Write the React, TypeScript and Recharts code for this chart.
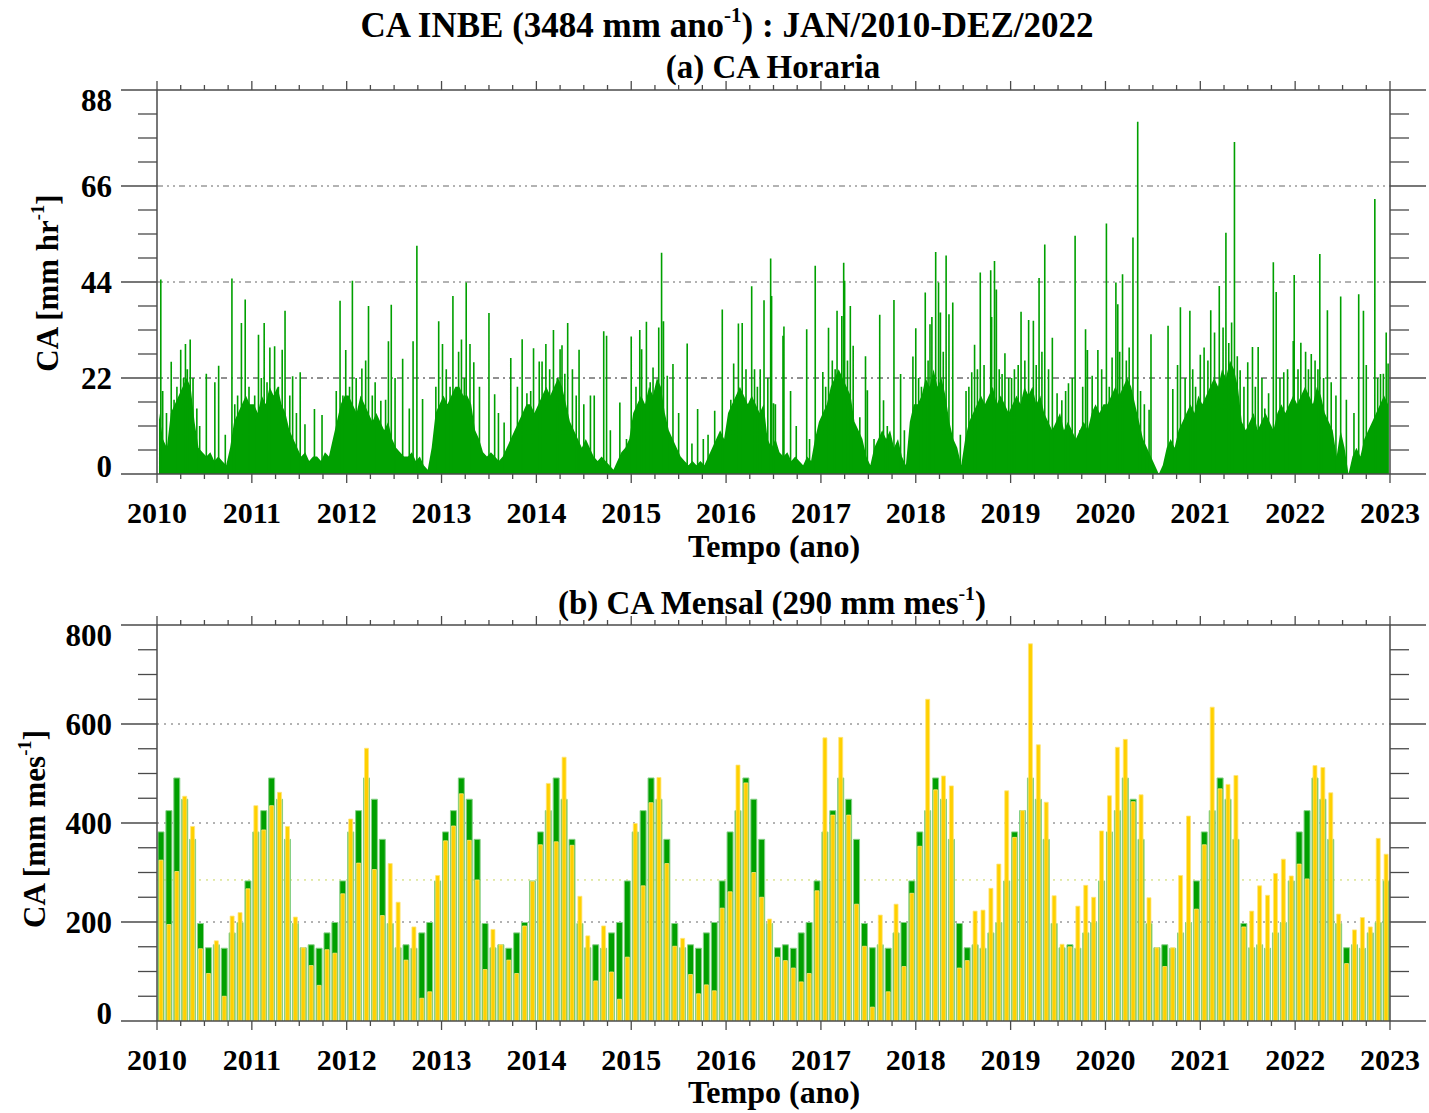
import React from 'react'
import { ComposedChart, Area, Line, Bar, XAxis, YAxis, CartesianGrid } from 'recharts'

const FONT = "'Liberation Serif', 'Times New Roman', serif"
const GREEN = '#00a000'
const GREEN_EDGE = '#86d086'
const YELLOW = '#ffd000'
const YELLOW_EDGE = '#ffe47a'
const AXIS = '#4a4a4a'

// ---- (b) monthly totals, mm/mes ----
// green bars: monthly climatology Jan..Dec
const climatology = [382, 425, 491, 448, 367, 197, 148, 154, 147, 178, 199, 283]

// yellow bars: observed month totals
const obs2010 = [325, 195, 302, 454, 393, 146, 96, 162, 50, 212, 219, 267]
const obs2011 = [435, 386, 435, 462, 393, 210, 148, 112, 72, 144, 137, 257]
const obs2012 = [408, 319, 551, 306, 213, 318, 240, 123, 190, 46, 59, 294]
const obs2013 = [364, 394, 459, 365, 285, 104, 185, 154, 123, 96, 192, 282]
const obs2014 = [356, 480, 362, 533, 355, 252, 172, 81, 192, 99, 44, 129]
const obs2015 = [399, 273, 441, 492, 318, 151, 167, 94, 55, 73, 61, 228]
const obs2016 = [261, 517, 481, 300, 250, 206, 129, 122, 107, 79, 96, 263]
const obs2017 = [572, 416, 573, 416, 236, 151, 28, 214, 59, 236, 110, 258]
const obs2018 = [353, 650, 467, 495, 475, 107, 122, 222, 224, 268, 317, 465]
const obs2019 = [371, 425, 762, 558, 442, 253, 155, 150, 232, 274, 250, 384]
const obs2020 = [455, 553, 569, 443, 457, 249, 148, 110, 148, 294, 414, 226]
const obs2021 = [356, 634, 469, 478, 496, 190, 222, 273, 254, 298, 327, 293]
const obs2022 = [317, 287, 516, 512, 461, 216, 116, 184, 209, 190, 369, 337]

// ---- (a) hourly rain, mm/hr ----
// dense part of the trace, read per half month
const body2010 = [14, 8, 6, 14, 16, 18, 20, 22, 20, 12, 6, 5, 4, 5, 3, 4, 3, 2, 6, 12, 14, 16, 18, 16]
const body2011 = [16, 14, 18, 16, 20, 18, 20, 16, 14, 10, 8, 6, 4, 5, 3, 4, 4, 3, 5, 4, 8, 12, 16, 18]
const body2012 = [18, 16, 14, 18, 16, 14, 12, 14, 12, 10, 12, 8, 6, 5, 4, 4, 5, 3, 4, 2, 1, 6, 14, 16]
const body2013 = [18, 16, 18, 20, 20, 18, 18, 16, 10, 8, 5, 4, 5, 4, 3, 4, 6, 8, 10, 12, 14, 16, 16, 14]
const body2014 = [16, 18, 20, 18, 20, 22, 20, 16, 12, 10, 8, 6, 8, 6, 4, 3, 4, 3, 2, 1, 3, 5, 6, 8]
const body2015 = [14, 16, 18, 16, 20, 18, 22, 20, 14, 10, 8, 6, 4, 3, 2, 3, 2, 3, 2, 4, 6, 8, 10, 8]
const body2016 = [14, 16, 18, 20, 18, 16, 18, 16, 14, 16, 8, 6, 8, 5, 4, 5, 3, 4, 3, 2, 4, 3, 8, 12]
const body2017 = [14, 16, 20, 22, 24, 22, 20, 18, 12, 10, 8, 4, 2, 6, 8, 10, 8, 10, 6, 8, 4, 2, 12, 16]
const body2018 = [16, 18, 22, 20, 24, 20, 22, 18, 12, 8, 6, 2, 8, 12, 14, 16, 18, 16, 18, 20, 16, 18, 16, 14]
const body2019 = [16, 18, 16, 20, 18, 20, 16, 18, 14, 12, 10, 12, 14, 10, 12, 10, 8, 10, 12, 10, 14, 16, 14, 16]
const body2020 = [16, 18, 20, 18, 20, 22, 20, 16, 12, 8, 6, 4, 2, 0, 2, 6, 8, 6, 10, 12, 14, 16, 14, 18]
const body2021 = [16, 18, 20, 22, 20, 24, 22, 26, 24, 20, 12, 10, 12, 14, 10, 12, 14, 12, 10, 14, 16, 14, 16, 18]
const body2022 = [16, 18, 20, 18, 16, 20, 18, 14, 12, 10, 4, 10, 6, 0, 4, 6, 4, 8, 10, 12, 14, 16, 18, 16]

// single tall hours: [fraction of the year, mm/hr]
const peaks2010 = [[0.04, 44.6], [0.06, 19], [0.1, 14], [0.15, 25.7], [0.18, 17], [0.21, 20], [0.25, 28.5], [0.28, 22], [0.3, 29.8], [0.32, 24], [0.35, 30.8], [0.38, 22], [0.42, 15], [0.45, 11], [0.52, 23], [0.61, 21], [0.65, 24.8], [0.72, 9], [0.79, 44.8], [0.82, 16], [0.85, 18], [0.89, 34.6], [0.93, 40], [0.97, 20]]
const peaks2011 = [[0.03, 18], [0.07, 31.9], [0.1, 22], [0.13, 34.6], [0.16, 21], [0.19, 29], [0.24, 29.3], [0.28, 20], [0.32, 28.5], [0.35, 37.4], [0.4, 18], [0.43, 22.4], [0.47, 14], [0.51, 23.3], [0.56, 11.4], [0.66, 14.9], [0.74, 13.5], [0.89, 19], [0.93, 39.7], [0.96, 18], [0.99, 28.4]]
const peaks2012 = [[0.03, 20], [0.06, 44.3], [0.1, 22], [0.16, 24.2], [0.2, 26], [0.23, 38.5], [0.27, 18], [0.3, 21], [0.36, 16.8], [0.41, 17], [0.44, 30.4], [0.47, 38.8], [0.51, 22], [0.59, 26.4], [0.66, 15], [0.7, 30.4], [0.74, 52.3], [0.8, 17.2], [0.94, 20], [0.97, 35]]
const peaks2013 = [[0.01, 29.8], [0.05, 24], [0.09, 20], [0.12, 40.8], [0.18, 28], [0.21, 30.8], [0.24, 22], [0.26, 43.9], [0.3, 29.8], [0.34, 25.6], [0.4, 20], [0.5, 36.9], [0.56, 18.3], [0.6, 14], [0.66, 11.8], [0.73, 26.6], [0.8, 20], [0.85, 30.9], [0.9, 18.5], [0.94, 19], [0.97, 28.8]]
const peaks2014 = [[0.03, 25.8], [0.06, 25.8], [0.1, 29.8], [0.14, 24], [0.18, 33], [0.22, 22], [0.25, 28.6], [0.27, 29.5], [0.3, 23], [0.33, 34.6], [0.38, 24], [0.42, 18], [0.45, 28.5], [0.5, 16], [0.57, 18], [0.61, 18], [0.71, 32.7], [0.74, 31.7], [0.78, 10], [0.88, 16.4], [0.95, 8]]
const peaks2015 = [[0.0, 31.5], [0.05, 20], [0.09, 33], [0.11, 28.6], [0.16, 34.9], [0.2, 21], [0.23, 24.4], [0.26, 20], [0.29, 33.6], [0.32, 50.7], [0.34, 35], [0.38, 22.5], [0.44, 25.2], [0.5, 14], [0.59, 29.9], [0.64, 7], [0.7, 14.9], [0.76, 8], [0.81, 9], [0.88, 14.5], [0.96, 37.7]]
const peaks2016 = [[0.02, 10], [0.05, 17], [0.08, 25.3], [0.13, 34.5], [0.17, 34.6], [0.21, 24], [0.27, 43], [0.3, 24], [0.33, 20], [0.36, 24], [0.4, 39.8], [0.44, 22], [0.47, 49.4], [0.48, 40.8], [0.5, 16.2], [0.52, 16], [0.6, 31.7], [0.61, 33.8], [0.68, 19], [0.74, 11], [0.85, 33.2], [0.88, 8], [0.94, 47.7]]
const peaks2017 = [[0.02, 23.4], [0.05, 20], [0.08, 33.5], [0.12, 26], [0.15, 24], [0.17, 37.4], [0.22, 36.2], [0.24, 48.4], [0.25, 44.3], [0.28, 26], [0.31, 38.5], [0.34, 29.4], [0.41, 13], [0.47, 27], [0.49, 19.2], [0.56, 8], [0.62, 36.5], [0.66, 16.9], [0.7, 11], [0.77, 39.9], [0.84, 22.9], [0.88, 10], [0.97, 26.9]]
const peaks2018 = [[0.0, 33.4], [0.03, 22], [0.06, 20], [0.1, 41.6], [0.13, 26], [0.15, 34.3], [0.17, 36], [0.21, 50.9], [0.24, 43.9], [0.26, 37], [0.29, 28], [0.32, 50.1], [0.35, 36.6], [0.39, 39.3], [0.47, 9], [0.53, 19], [0.56, 20], [0.59, 23.3], [0.62, 29.6], [0.65, 24], [0.68, 46.2], [0.72, 25], [0.75, 10], [0.79, 46.7], [0.8, 36], [0.83, 48.8], [0.85, 42.3], [0.88, 24], [0.91, 22.9], [0.94, 27.7], [0.98, 22]]
const peaks2019 = [[0.01, 22], [0.04, 24], [0.08, 25], [0.11, 37.2], [0.15, 26], [0.19, 35.3], [0.24, 35.1], [0.27, 25], [0.3, 44.9], [0.33, 28], [0.36, 52.6], [0.4, 24], [0.44, 31.2], [0.49, 18.5], [0.54, 16.9], [0.58, 19], [0.61, 20.8], [0.65, 22], [0.68, 54.6], [0.73, 10], [0.76, 20], [0.79, 33.2], [0.81, 28.4], [0.86, 22.5], [0.92, 28.4], [0.96, 24]]
const peaks2020 = [[0.01, 57.4], [0.04, 20], [0.07, 26.7], [0.11, 43.9], [0.13, 38.9], [0.15, 28], [0.18, 45.8], [0.22, 26], [0.25, 29], [0.29, 54.2], [0.34, 80.7], [0.37, 19], [0.41, 16], [0.46, 14.7], [0.48, 32], [0.66, 34], [0.71, 19.5], [0.76, 25], [0.79, 38.2], [0.84, 22], [0.89, 37.4], [0.92, 24], [0.95, 20]]
const peaks2021 = [[0.0, 27.3], [0.04, 29], [0.08, 26], [0.11, 37.5], [0.15, 32.4], [0.2, 43.1], [0.24, 33.6], [0.27, 55.3], [0.3, 30], [0.33, 34.7], [0.36, 76.1], [0.39, 27], [0.42, 23.8], [0.46, 20], [0.5, 25.6], [0.55, 29.1], [0.58, 20], [0.61, 29.1], [0.65, 22], [0.68, 15], [0.72, 18.5], [0.77, 48.5], [0.8, 41.7], [0.84, 22], [0.88, 23.3], [0.92, 24], [0.98, 30.5], [0.99, 45.6]]
const peaks2022 = [[0.03, 24], [0.06, 30.1], [0.11, 28], [0.14, 24], [0.17, 27.5], [0.21, 26], [0.24, 24], [0.26, 50.4], [0.3, 22], [0.34, 37.5], [0.38, 21], [0.43, 18], [0.48, 40.7], [0.54, 17], [0.62, 14], [0.67, 41.2], [0.72, 37.4], [0.75, 25], [0.81, 9], [0.84, 63], [0.87, 22], [0.9, 22.9], [0.93, 23], [0.96, 32.4], [0.98, 25.3]]

const FIRST_YEAR = 2010
const obsByYear = [obs2010, obs2011, obs2012, obs2013, obs2014, obs2015, obs2016, obs2017, obs2018, obs2019, obs2020, obs2021, obs2022]
const bodyByYear = [body2010, body2011, body2012, body2013, body2014, body2015, body2016, body2017, body2018, body2019, body2020, body2021, body2022]
const peaksByYear = [peaks2010, peaks2011, peaks2012, peaks2013, peaks2014, peaks2015, peaks2016, peaks2017, peaks2018, peaks2019, peaks2020, peaks2021, peaks2022]

const monthly = obsByYear.flatMap((vals, k) =>
  vals.map((v, m) => ({ t: FIRST_YEAR + k + (m + 0.5) / 12, clim: climatology[m], obs: v }))
)
const hourlyBody = bodyByYear.flatMap((vals, k) =>
  vals.map((v, i) => ({ t: FIRST_YEAR + k + (i + 0.5) / 24, v }))
)
// each peak becomes a vertical stroke from the baseline
const hourlyPeaks = peaksByYear.flatMap((list, k) =>
  list.flatMap(([f, v]) => {
    const t = FIRST_YEAR + k + f
    return [{ t, v: 0 }, { t, v }, { t, v: 0 }]
  })
)
const climMean = climatology.reduce((a, b) => a + b, 0) / 12

const X_DOMAIN: [number, number] = [2010, 2023]
const quarterTicks = Array.from({ length: 53 }, (_, i) => 2010 + i * 0.25)
const hourTicks = Array.from({ length: 17 }, (_, i) => i * 5.5)
const monthTicks = Array.from({ length: 17 }, (_, i) => i * 50)

function makeXTick(side: 'top' | 'bottom', withLabel: boolean) {
  return (props: any) => {
    const { x, y, payload } = props
    const v = payload.value
    const major = Math.abs(v - Math.round(v)) < 1e-6
    const len = major ? 9 : 5
    const d = side === 'bottom' ? 1 : -1
    return (
      <g>
        <line x1={x} x2={x} y1={y} y2={y + d * len} stroke={AXIS} strokeWidth={1.3} />
        {withLabel && major && (
          <text x={x} y={y + 38} textAnchor="middle" dominantBaseline="central"
            fontFamily={FONT} fontWeight="bold" fontSize={30} fill="#000">
            {Math.round(v)}
          </text>
        )}
      </g>
    )
  }
}

function makeYTick(side: 'left' | 'right', step: number, max: number, withLabel: boolean) {
  return (props: any) => {
    const { x, y, payload } = props
    const v = payload.value
    const major = Math.abs(v / step - Math.round(v / step)) < 1e-6
    const len = major ? 36 : 19
    const d = side === 'left' ? -1 : 1
    let dy = 0
    if (Math.abs(v - max) < 1e-6) dy = 10
    if (v === 0) dy = -8
    return (
      <g>
        <line x1={x} x2={x + d * len} y1={y} y2={y} stroke={AXIS} strokeWidth={1.3} />
        {withLabel && major && (
          <text x={x - 45} y={y + dy} textAnchor="end" dominantBaseline="central"
            fontFamily={FONT} fontWeight="bold" fontSize={31} fill="#000">
            {Math.round(v)}
          </text>
        )}
      </g>
    )
  }
}

function Caption({ x, y, size, rotate, children }: any) {
  return (
    <div
      style={{
        position: 'absolute',
        left: x,
        top: y,
        transform: `translate(-50%, -50%)${rotate ? ' rotate(-90deg)' : ''}`,
        whiteSpace: 'nowrap',
        fontFamily: FONT,
        fontWeight: 'bold',
        fontSize: size,
        lineHeight: 1,
        color: '#000',
      }}
    >
      {children}
    </div>
  )
}

const Sup = ({ children }: any) => (
  <span style={{ fontSize: '0.6em', verticalAlign: '0.7em' }}>{children}</span>
)

const axisLine = { stroke: AXIS, strokeWidth: 1.5 }

// axes get 1px so they are laid out; ticks are drawn by hand with tickSize 0
function HourlyPanel() {
  return (
    <ComposedChart width={1429} height={560} margin={{ top: 89, right: 38, bottom: 85, left: 156 }}>
      <CartesianGrid xAxisId="bottom" yAxisId="left" vertical={false} horizontalValues={[22]}
        stroke="#222" strokeDasharray="6 4 2 4" />
      <CartesianGrid xAxisId="bottom" yAxisId="left" vertical={false} horizontalValues={[44, 66]}
        stroke="#666" strokeDasharray="6 4 2 4 2 4" />
      <XAxis xAxisId="bottom" dataKey="t" type="number" domain={X_DOMAIN} allowDataOverflow
        ticks={quarterTicks} interval={0} height={1} tickSize={0} tickMargin={0} tickLine={false}
        axisLine={axisLine} tick={makeXTick('bottom', true)} />
      <XAxis xAxisId="top" orientation="top" dataKey="t" type="number" domain={X_DOMAIN} allowDataOverflow
        ticks={quarterTicks} interval={0} height={1} tickSize={0} tickMargin={0} tickLine={false}
        axisLine={axisLine} tick={makeXTick('top', false)} />
      <YAxis yAxisId="left" type="number" domain={[0, 88]} allowDataOverflow ticks={hourTicks} interval={0}
        width={1} tickSize={0} tickMargin={0} tickLine={false} axisLine={axisLine}
        tick={makeYTick('left', 22, 88, true)} />
      <YAxis yAxisId="right" orientation="right" type="number" domain={[0, 88]} allowDataOverflow
        ticks={hourTicks} interval={0} width={1} tickSize={0} tickMargin={0} tickLine={false}
        axisLine={axisLine} tick={makeYTick('right', 22, 88, false)} />
      <Area data={hourlyBody} xAxisId="bottom" yAxisId="left" dataKey="v" type="linear"
        stroke="none" fill={GREEN} fillOpacity={1} isAnimationActive={false} />
      <Line data={hourlyPeaks} xAxisId="top" yAxisId="right" dataKey="v" type="linear"
        stroke={GREEN} strokeWidth={1.6} dot={false} activeDot={false} isAnimationActive={false} />
    </ComposedChart>
  )
}

function MonthlyPanel() {
  return (
    <ComposedChart width={1429} height={553} data={monthly}
      margin={{ top: 64, right: 38, bottom: 91, left: 156 }}>
      <CartesianGrid xAxisId="bottom" yAxisId="left" vertical={false} horizontalValues={[200, 400, 600]}
        stroke="#666" strokeDasharray="2 5" />
      <CartesianGrid xAxisId="bottom" yAxisId="left" vertical={false} horizontalValues={[climMean]}
        stroke="#c9d65a" strokeDasharray="2 5" />
      <XAxis xAxisId="bottom" dataKey="t" type="number" domain={X_DOMAIN} allowDataOverflow
        ticks={quarterTicks} interval={0} height={1} tickSize={0} tickMargin={0} tickLine={false}
        axisLine={axisLine} tick={makeXTick('bottom', true)} />
      <XAxis xAxisId="top" orientation="top" dataKey="t" type="number" domain={X_DOMAIN} allowDataOverflow
        ticks={quarterTicks} interval={0} height={1} tickSize={0} tickMargin={0} tickLine={false}
        axisLine={axisLine} tick={makeXTick('top', false)} />
      <YAxis yAxisId="left" type="number" domain={[0, 800]} allowDataOverflow ticks={monthTicks} interval={0}
        width={1} tickSize={0} tickMargin={0} tickLine={false} axisLine={axisLine}
        tick={makeYTick('left', 200, 800, true)} />
      <YAxis yAxisId="right" orientation="right" type="number" domain={[0, 800]} allowDataOverflow
        ticks={monthTicks} interval={0} width={1} tickSize={0} tickMargin={0} tickLine={false}
        axisLine={axisLine} tick={makeYTick('right', 200, 800, false)} />
      <Bar xAxisId="bottom" yAxisId="left" dataKey="clim" barSize={6} fill={GREEN}
        stroke={GREEN_EDGE} strokeWidth={1} isAnimationActive={false} />
      <Bar xAxisId="top" yAxisId="right" dataKey="obs" barSize={4} fill={YELLOW}
        stroke={YELLOW_EDGE} strokeWidth={0.8} isAnimationActive={false} />
    </ComposedChart>
  )
}

export default function App() {
  return (
    <div style={{ position: 'absolute', left: 0, top: 0, width: 1429, height: 1113, background: '#fff' }}>
      <div style={{ position: 'absolute', left: 0, top: 0 }}>
        <HourlyPanel />
      </div>
      <div style={{ position: 'absolute', left: 0, top: 560 }}>
        <MonthlyPanel />
      </div>
      <Caption x={727} y={24} size={35}>
        CA INBE (3484 mm ano<Sup>-1</Sup>) : JAN/2010-DEZ/2022
      </Caption>
      <Caption x={773} y={67} size={33}>(a) CA Horaria</Caption>
      <Caption x={774} y={546} size={32}>Tempo (ano)</Caption>
      <Caption x={46} y={283} size={31} rotate>
        CA [mm hr<Sup>-1</Sup>]
      </Caption>
      <Caption x={772} y={602} size={33}>
        (b) CA Mensal (290 mm mes<Sup>-1</Sup>)
      </Caption>
      <Caption x={774} y={1092} size={32}>Tempo (ano)</Caption>
      <Caption x={33} y={829} size={31} rotate>
        CA [mm mes<Sup>-1</Sup>]
      </Caption>
    </div>
  )
}
